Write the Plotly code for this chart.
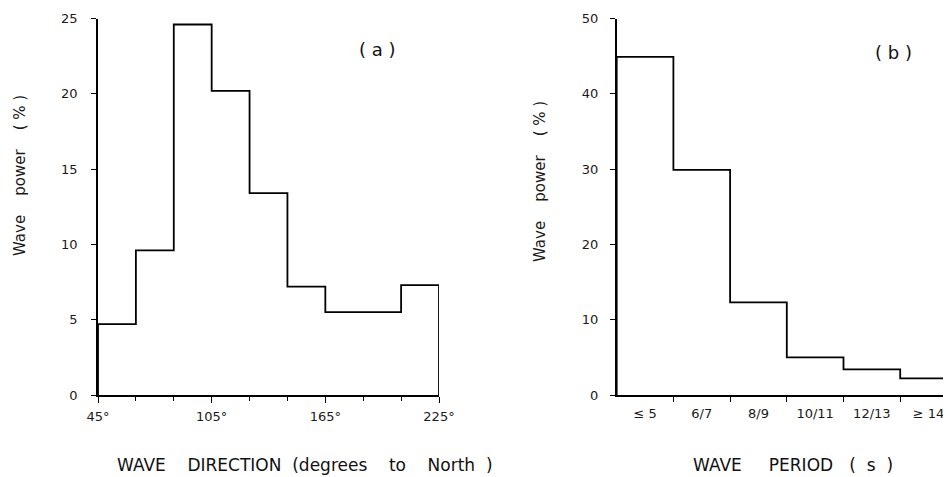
import plotly.graph_objects as go

# ---- data ----
dir_edges = [45, 65, 85, 105, 125, 145, 165, 185, 205, 225]
dir_power = [4.7, 9.6, 24.6, 20.2, 13.4, 7.2, 5.5, 5.5, 7.3]
dir_tick_vals = [45, 105, 165, 225]
dir_tick_labels = ["45°", "105°", "165°", "225°"]

period_labels = ["≤ 5", "6/7", "8/9", "10/11", "12/13", "≥ 14"]
period_power = [44.9, 29.9, 12.3, 5.0, 3.4, 2.2]

# step outlines built from the bins
xa = [dir_edges[0]] + dir_edges[:-1] + [dir_edges[-1], dir_edges[-1]]
ya = [0] + dir_power + [dir_power[-1], 0]

p_edges = list(range(len(period_power) + 1))
xb = [p_edges[0]] + p_edges[:-1] + [p_edges[-1]]
yb = [0] + period_power + [period_power[-1]]

W, H = 951, 477
OFF = 8  # page body margin


def px(x):
    return (x - OFF) / W


def py(y):
    return 1 - (y - OFF) / H


fig = go.Figure()
fig.add_trace(go.Scatter(x=xa, y=ya, mode="lines", line=dict(shape="hv", color="black", width=1.8),
                         xaxis="x", yaxis="y", showlegend=False, hoverinfo="skip"))
fig.add_trace(go.Scatter(x=xb, y=yb, mode="lines", line=dict(shape="hv", color="black", width=1.8),
                         xaxis="x2", yaxis="y2", showlegend=False, hoverinfo="skip"))

font = "DejaVu Sans, Liberation Sans, sans-serif"
ydom = [py(395), py(18.5)]
axcommon = dict(showline=True, linecolor="black", linewidth=1.5, showgrid=False, zeroline=False,
                automargin=False, tickcolor="black", tickwidth=1.3,
                tickfont=dict(family=font, size=13, color="#1a1a1a"))

bin_px = 56.7
right_end = (W + OFF - 616.7) / bin_px

fig.update_layout(
    width=W, height=H,
    margin=dict(l=0, r=0, t=0, b=0),
    paper_bgcolor="white", plot_bgcolor="white",
    xaxis=dict(domain=[px(98), px(439)], range=[45, 225], anchor="y", ticks="outside",
               tickvals=dir_tick_vals, ticktext=dir_tick_labels, ticklen=6, ticklabelstandoff=3,
               minor=dict(tickvals=dir_edges, ticks="outside", ticklen=4, tickcolor="black", tickwidth=1.2),
               **axcommon),
    yaxis=dict(domain=ydom, range=[0, 25], anchor="x", tickvals=[0, 5, 10, 15, 20, 25], ticks="outside",
               ticklen=5, ticklabelstandoff=11, **axcommon),
    xaxis2=dict(domain=[px(616.7), 1.0], range=[0, right_end], anchor="y2", ticks="",
                tickvals=[i + 0.5 for i in range(len(period_labels))], ticktext=period_labels,
                ticklen=0, ticklabelstandoff=6,
                minor=dict(tickvals=p_edges[1:], ticks="outside", ticklen=5, tickcolor="black", tickwidth=1.2),
                **axcommon),
    yaxis2=dict(domain=ydom, range=[0, 50], anchor="x2", tickvals=[0, 10, 20, 30, 40, 50], ticks="outside",
                ticklen=5, ticklabelstandoff=9, **axcommon),
)

sp = "&nbsp;"
ann = [
    dict(x=377, y=50, text="(" + sp + "a" + sp + ")", size=18),
    dict(x=893, y=52, text="(" + sp + "b" + sp + ")", size=18),
    dict(x=305, y=465, text="WAVE" + sp * 4 + "DIRECTION" + sp * 2 + "(degrees" + sp * 4 + "to" + sp * 4
         + "North" + sp * 2 + ")", size=17),
    dict(x=793, y=465, text="WAVE" + sp * 5 + "PERIOD" + sp * 3 + "(" + sp * 2 + "s" + sp * 2 + ")", size=17),
]
for a in ann:
    fig.add_annotation(x=px(a["x"]), y=py(a["y"]), xref="paper", yref="paper",
                       text=a["text"], showarrow=False, xanchor="center", yanchor="middle",
                       font=dict(family=font, size=a["size"], color="#111"))
for xp, yp in [(20, 176), (540, 182)]:
    fig.add_annotation(x=px(xp), y=py(yp), xref="paper", yref="paper",
                       text="Wave" + sp * 4 + "power" + sp * 4 + "(" + sp + "%" + sp + ")", textangle=-90,
                       showarrow=False, xanchor="center", yanchor="middle",
                       font=dict(family=font, size=15, color="#1a1a1a"))

fig.write_html("out.html")
